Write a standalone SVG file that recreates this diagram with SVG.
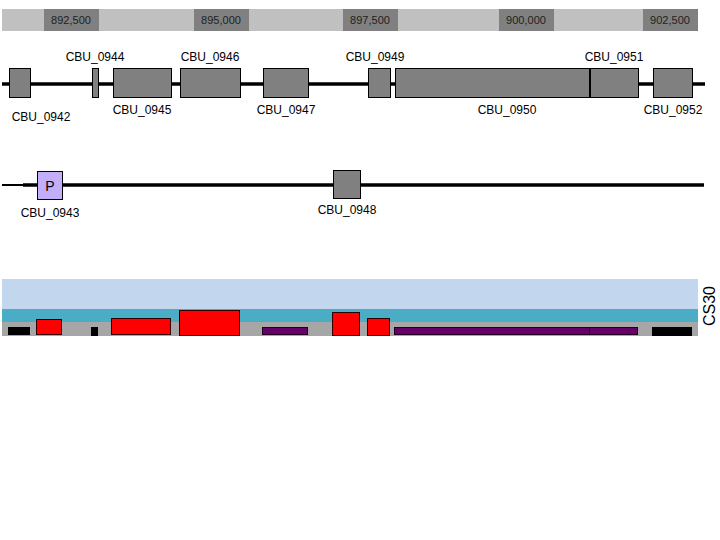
<svg xmlns="http://www.w3.org/2000/svg" width="720" height="540" viewBox="0 0 720 540">
<style>
text{font-family:"Liberation Sans",Arial,sans-serif;fill:#000}
.ax{font-size:11px;text-anchor:middle;fill:#222}
.lbl{font-size:12px;text-anchor:middle}
.gene{fill:#808080;stroke:#000;stroke-width:1}
.red{fill:#ff0000;stroke:#300;stroke-width:1}
.pur{fill:#660066;stroke:#200020;stroke-width:1}
.blk{fill:#000}
</style>
<rect width="720" height="540" fill="#fff"/>
<g id="axis">
<rect x="2" y="9" width="696" height="22" fill="#c0c0c0"/>
<rect x="44" y="9" width="55" height="22" fill="#808080"/>
<rect x="194" y="9" width="55" height="22" fill="#808080"/>
<rect x="343" y="9" width="55" height="22" fill="#808080"/>
<rect x="499" y="9" width="55" height="22" fill="#808080"/>
<rect x="643" y="9" width="55" height="22" fill="#808080"/>
<text class="ax" x="71" y="24">892,500</text>
<text class="ax" x="221" y="24">895,000</text>
<text class="ax" x="370" y="24">897,500</text>
<text class="ax" x="526" y="24">900,000</text>
<text class="ax" x="670" y="24">902,500</text>
</g>
<g id="connectors">
<line x1="2" y1="84" x2="705" y2="84" stroke="#000" stroke-width="3.5"/>
<line x1="2" y1="185" x2="24" y2="185" stroke="#000" stroke-width="2"/>
<line x1="23" y1="185" x2="704" y2="185" stroke="#000" stroke-width="3.5"/>
</g>
<g id="CBU_0942"><rect class="gene" x="9.5" y="68.5" width="21" height="29"/><text class="lbl" x="41" y="121">CBU_0942</text></g>
<g id="CBU_0944"><rect class="gene" x="92.5" y="68.5" width="6" height="29"/><text class="lbl" x="95" y="61">CBU_0944</text></g>
<g id="CBU_0945"><rect class="gene" x="113.5" y="68.5" width="58" height="29"/><text class="lbl" x="142" y="114">CBU_0945</text></g>
<g id="CBU_0946"><rect class="gene" x="180.5" y="68.5" width="60" height="29"/><text class="lbl" x="210" y="61">CBU_0946</text></g>
<g id="CBU_0947"><rect class="gene" x="263.5" y="68.5" width="45" height="29"/><text class="lbl" x="286" y="114">CBU_0947</text></g>
<g id="CBU_0949"><rect class="gene" x="368.5" y="68.5" width="22" height="29"/><text class="lbl" x="375" y="61">CBU_0949</text></g>
<g id="CBU_0950"><rect class="gene" x="395.5" y="68.5" width="195" height="29"/><text class="lbl" x="507" y="114">CBU_0950</text></g>
<g id="CBU_0951"><rect class="gene" x="590" y="68.5" width="48.5" height="29"/><line x1="590" y1="68" x2="590" y2="98" stroke="#000" stroke-width="2"/><text class="lbl" x="614" y="61">CBU_0951</text></g>
<g id="CBU_0952"><rect class="gene" x="653.5" y="68.5" width="39" height="29"/><text class="lbl" x="673" y="114">CBU_0952</text></g>
<g id="CBU_0943"><rect x="37.5" y="171.5" width="25" height="28" fill="#c3aefa" stroke="#000" stroke-width="1"/><text x="50" y="191" font-size="14" text-anchor="middle">P</text><text class="lbl" x="50" y="217">CBU_0943</text></g>
<g id="CBU_0948"><rect class="gene" x="333.5" y="170.5" width="27" height="28"/><text class="lbl" x="347" y="214">CBU_0948</text></g>
<g id="CS30">
<rect x="2" y="279" width="696" height="30" fill="#c2d6ee"/>
<rect x="2" y="309" width="696" height="13" fill="#4bacc6"/>
<rect x="2" y="322" width="696" height="14" fill="#a6a6a6"/>
<rect class="blk" x="8" y="327" width="22" height="8"/>
<rect class="red" x="36.5" y="319.5" width="25" height="15"/>
<rect class="blk" x="91" y="327" width="7" height="9"/>
<rect class="red" x="111.5" y="318.5" width="59" height="16"/>
<rect class="red" x="179.5" y="310.5" width="60" height="25"/>
<rect class="pur" x="262.5" y="327.5" width="45" height="7"/>
<rect class="red" x="332.5" y="312.5" width="27" height="23"/>
<rect class="red" x="367.5" y="318.5" width="22" height="17"/>
<rect class="pur" x="394.5" y="327.5" width="195" height="7"/>
<rect class="pur" x="589.5" y="327.5" width="48" height="7"/>
<rect class="blk" x="652" y="327" width="40" height="9"/>
<text x="715" y="306" font-size="16" text-anchor="middle" transform="rotate(-90 715 306)">CS30</text>
</g>
</svg>
